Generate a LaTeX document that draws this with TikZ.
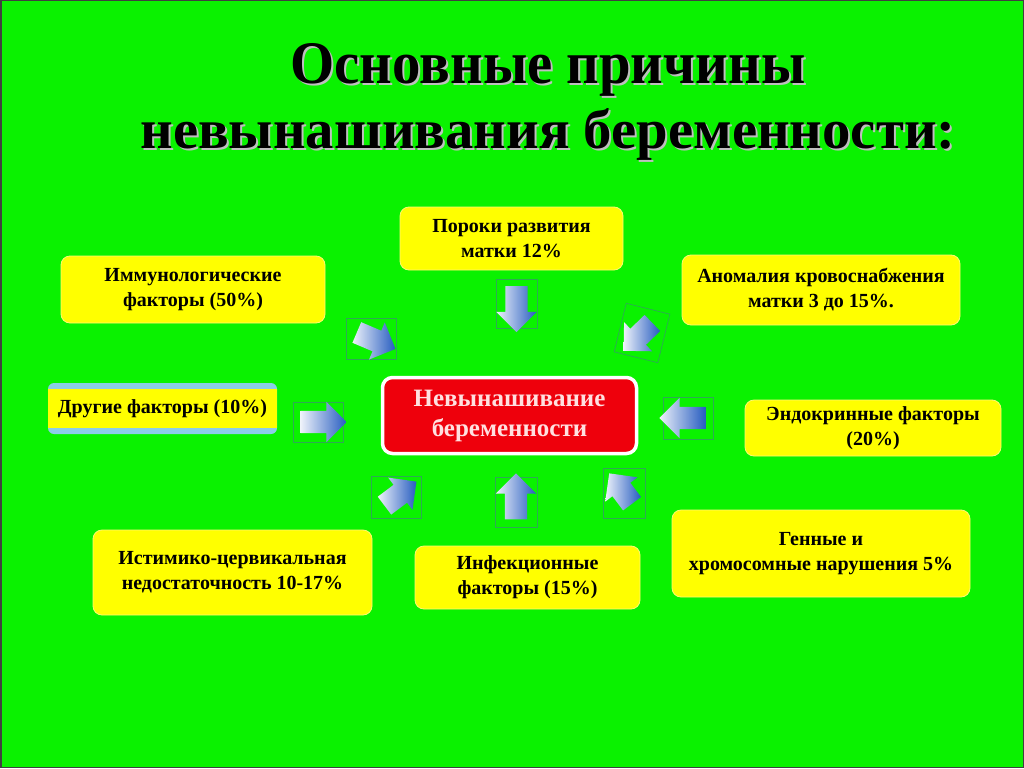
\documentclass[tikz,border=0pt]{standalone}
\usepackage{fontspec}
\setmainfont{Liberation Serif}
\usetikzlibrary{shapes.arrows}

\definecolor{slidegreen}{RGB}{10,242,0}
\definecolor{causeyellow}{RGB}{255,255,0}
\definecolor{framegreen}{RGB}{45,170,85}
\definecolor{arrowblue}{RGB}{38,92,192}
\definecolor{centerred}{RGB}{238,0,12}
\definecolor{otherblue}{RGB}{140,205,232}

\tikzset{
    cause/.style={
            fill=causeyellow, draw=yellow!55!white, line width=0.8pt,
            rounded corners=9pt, inner sep=0pt, align=center,
            font=\bfseries\fontsize{20}{25}\selectfont
        },
    arrowframe/.style={draw=framegreen, line width=0.7pt, inner sep=0pt},
    blockarrow/.style={
            single arrow, single arrow head extend=9pt,
            minimum height=46pt, minimum width=0pt,
            inner xsep=0pt, inner ysep=11pt,
            left color=white!92!arrowblue, right color=arrowblue
        },
    titletext/.style={anchor=base, inner sep=0pt, font=\bfseries}
}

\begin{document}
\begin{tikzpicture}[x=1pt, y=-1pt]

    \useasboundingbox (0,0) rectangle (1024,768);
    \fill[slidegreen] (0,0) rectangle (1024,768);
    \draw[black!75, line width=1.5pt] (0.75,0.75) rectangle (1023.25,767.25);

    % Title with its light shadow
    \node[titletext, text=white!75!black] (titleShadowA) at (550,85)
        {\resizebox{515pt}{40pt}{Основные причины}};
    \node[titletext, text=white!75!black] (titleShadowB) at (550,150)
        {\resizebox{815pt}{40pt}{невынашивания беременности:}};
    \node[titletext] (titleA) at (548,83)
        {\resizebox{515pt}{40pt}{Основные причины}};
    \node[titletext] (titleB) at (548,148)
        {\resizebox{815pt}{40pt}{невынашивания беременности:}};

    % Centre
    \node[fill=centerred, draw=white, line width=3.5pt, rounded corners=10pt,
        minimum width=254pt, minimum height=76pt, inner sep=0pt, align=center,
        text=white!88!red, font=\bfseries\fontsize{25}{30}\selectfont]
        (centre) at (509.5,415.5) {Невынашивание\\беременности};

    % Causes
    \node[cause, minimum width=223pt, minimum height=63pt] (malform) at (511.5,238.5)
        {Пороки развития\\матки 12\%};
    \node[cause, minimum width=264pt, minimum height=67pt] (immuno) at (193,289.5)
        {Иммунологические\\факторы (50\%)};
    \node[cause, minimum width=278pt, minimum height=70pt] (blood) at (821,290)
        {Аномалия кровоснабжения\\матки 3 до 15\%.};
    \node[fill=otherblue, rounded corners=6pt, minimum width=229pt, minimum height=51pt,
        inner sep=0pt] (otherBack) at (162.5,408.5) {};
    \node[fill=causeyellow, minimum width=229pt, minimum height=39pt, inner sep=0pt,
        font=\bfseries\fontsize{20}{25}\selectfont] (other) at (otherBack) {Другие факторы (10\%)};
    \node[cause, minimum width=256pt, minimum height=56pt] (endo) at (873,428)
        {Эндокринные факторы\\(20\%)};
    \node[cause, minimum width=298pt, minimum height=87pt] (genes) at (821,553.5)
        {Генные и\\хромосомные нарушения 5\%};
    \node[cause, minimum width=279pt, minimum height=85pt] (isthmic) at (232.5,572.5)
        {Истимико-цервикальная\\недостаточность 10-17\%};
    \node[cause, minimum width=225pt, minimum height=63pt] (infect) at (527.5,577.5)
        {Инфекционные\\факторы (15\%)};

    % Block arrows in their frames
    \node[arrowframe, minimum width=41pt, minimum height=49pt] (frMalform) at (516.5,303.5) {};
    \node[blockarrow, rotate=-90] (arMalform) at (frMalform) {};

    \node[arrowframe, minimum width=50pt, minimum height=41pt] (frImmuno) at (371,338.5) {};
    \node[blockarrow, minimum height=42pt, rotate=-23] (arImmuno) at (frImmuno) {};

    \node[arrowframe, minimum width=45pt, minimum height=50pt, rotate=-14] (frBlood) at (642,333) {};
    \node[blockarrow, minimum height=40pt, rotate=-136] (arBlood) at (frBlood) {};

    \node[arrowframe, minimum width=50pt, minimum height=40pt] (frOther) at (318,422) {};
    \node[blockarrow] (arOther) at (frOther) {};

    \node[arrowframe, minimum width=50pt, minimum height=42pt] (frEndo) at (688,418) {};
    \node[blockarrow, rotate=180] (arEndo) at (frEndo) {};

    \node[arrowframe, minimum width=50pt, minimum height=42pt] (frIsthmic) at (396,497) {};
    \node[blockarrow, minimum height=40pt, rotate=37] (arIsthmic) at (frIsthmic) {};

    \node[arrowframe, minimum width=42pt, minimum height=50pt] (frInfect) at (516,502) {};
    \node[blockarrow, rotate=90] (arInfect) at (frInfect) {};

    \node[arrowframe, minimum width=42pt, minimum height=50pt] (frGenes) at (624,493) {};
    \node[blockarrow, minimum height=38pt, rotate=127] (arGenes) at (frGenes) {};

\end{tikzpicture}
\end{document}
